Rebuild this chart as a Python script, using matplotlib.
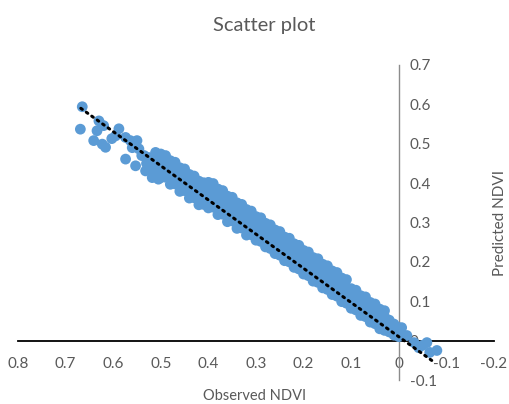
import matplotlib
matplotlib.use("Agg")
import matplotlib.pyplot as plt

# ---------------- data ----------------
# sparse upper-left part of the cloud
obs_sparse = [0.665, 0.669, 0.641, 0.630, 0.620, 0.634, 0.623, 0.616, 0.603, 0.588,
              0.574, 0.564, 0.550, 0.574, 0.553, 0.546, 0.525, 0.511, 0.532, 0.518,
              0.535, 0.520, 0.510, 0.530, 0.515, 0.505, 0.505, 0.540, 0.560, 0.595]
pred_sparse = [0.594, 0.537, 0.508, 0.558, 0.546, 0.533, 0.499, 0.491, 0.513, 0.538,
               0.516, 0.508, 0.508, 0.461, 0.444, 0.487, 0.465, 0.478, 0.431, 0.414,
               0.470, 0.450, 0.440, 0.450, 0.430, 0.410, 0.460, 0.470, 0.490, 0.520]

# dense band
obs_band = [
    0.50, 0.50, 0.50, 0.50, 0.49, 0.49, 0.49, 0.49, 0.48, 0.48, 0.48, 0.48,
    0.47, 0.47, 0.47, 0.47, 0.46, 0.46, 0.46, 0.46, 0.45, 0.45, 0.45, 0.45,
    0.44, 0.44, 0.44, 0.44, 0.43, 0.43, 0.43, 0.43, 0.42, 0.42, 0.42, 0.42,
    0.41, 0.41, 0.41, 0.41,
    0.40, 0.40, 0.40, 0.40, 0.39, 0.39, 0.39, 0.39, 0.38, 0.38, 0.38, 0.38,
    0.37, 0.37, 0.37, 0.37, 0.36, 0.36, 0.36, 0.36, 0.35, 0.35, 0.35, 0.35,
    0.34, 0.34, 0.34, 0.34, 0.33, 0.33, 0.33, 0.33, 0.32, 0.32, 0.32, 0.32,
    0.31, 0.31, 0.31, 0.31,
    0.30, 0.30, 0.30, 0.30, 0.29, 0.29, 0.29, 0.29, 0.28, 0.28, 0.28, 0.28,
    0.27, 0.27, 0.27, 0.27, 0.26, 0.26, 0.26, 0.26, 0.25, 0.25, 0.25, 0.25,
    0.24, 0.24, 0.24, 0.24, 0.23, 0.23, 0.23, 0.23, 0.22, 0.22, 0.22, 0.22,
    0.21, 0.21, 0.21, 0.21, 0.20, 0.20, 0.20, 0.20, 0.19, 0.19, 0.19, 0.19,
    0.18, 0.18, 0.18, 0.18, 0.17, 0.17, 0.17, 0.17, 0.16, 0.16, 0.16, 0.16,
    0.15, 0.15, 0.15, 0.15, 0.14, 0.14, 0.14, 0.14, 0.13, 0.13, 0.13, 0.13,
    0.12, 0.12, 0.12, 0.12, 0.11, 0.11, 0.11, 0.11,
    0.10, 0.10, 0.10, 0.10, 0.09, 0.09, 0.09, 0.09, 0.08, 0.08, 0.08, 0.08,
    0.07, 0.07, 0.07, 0.07, 0.06, 0.06, 0.06, 0.06, 0.05, 0.05, 0.05, 0.05,
    0.04, 0.04, 0.04, 0.04, 0.03, 0.03, 0.03, 0.03, 0.02, 0.02, 0.02,
    0.01, 0.01, 0.01, 0.00, 0.00, 0.00,
]
pred_band = [
    0.414, 0.434, 0.454, 0.474, 0.415, 0.435, 0.455, 0.470, 0.397, 0.417, 0.437, 0.457,
    0.398, 0.418, 0.438, 0.453, 0.379, 0.399, 0.419, 0.439, 0.381, 0.401, 0.421, 0.436,
    0.362, 0.382, 0.402, 0.422, 0.363, 0.383, 0.403, 0.418, 0.345, 0.365, 0.385, 0.405,
    0.346, 0.366, 0.386, 0.401,
    0.337, 0.357, 0.377, 0.402, 0.339, 0.359, 0.379, 0.399, 0.320, 0.340, 0.360, 0.385,
    0.321, 0.341, 0.361, 0.381, 0.302, 0.322, 0.342, 0.367, 0.304, 0.324, 0.344, 0.364,
    0.285, 0.305, 0.325, 0.350, 0.286, 0.306, 0.326, 0.346, 0.268, 0.288, 0.308, 0.333,
    0.269, 0.289, 0.309, 0.329,
    0.255, 0.275, 0.295, 0.315, 0.252, 0.272, 0.292, 0.312, 0.238, 0.258, 0.278, 0.298,
    0.234, 0.254, 0.274, 0.294, 0.221, 0.241, 0.261, 0.281, 0.217, 0.237, 0.257, 0.277,
    0.203, 0.223, 0.243, 0.263, 0.200, 0.220, 0.240, 0.260, 0.186, 0.206, 0.226, 0.246,
    0.182, 0.202, 0.222, 0.242, 0.169, 0.189, 0.209, 0.229, 0.165, 0.185, 0.205, 0.225,
    0.151, 0.171, 0.191, 0.211, 0.148, 0.168, 0.188, 0.208, 0.134, 0.154, 0.174, 0.194,
    0.130, 0.150, 0.170, 0.190, 0.117, 0.137, 0.157, 0.177, 0.113, 0.133, 0.153, 0.173,
    0.099, 0.119, 0.139, 0.159, 0.095, 0.115, 0.135, 0.155,
    0.082, 0.102, 0.117, 0.132, 0.078, 0.098, 0.113, 0.128, 0.064, 0.084, 0.099, 0.114,
    0.061, 0.081, 0.096, 0.111, 0.047, 0.067, 0.082, 0.097, 0.043, 0.063, 0.078, 0.093,
    0.030, 0.050, 0.065, 0.080, 0.026, 0.046, 0.061, 0.076, 0.022, 0.037, 0.052,
    0.014, 0.029, 0.042, 0.010, 0.022, 0.033,
]

# tail past zero
obs_tail = [-0.006, -0.017, -0.032, -0.042, -0.050, -0.059, -0.065, -0.080]
pred_tail = [0.033, 0.013, -0.005, -0.018, -0.012, -0.005, -0.030, -0.025]

# linear trendline end points
trend_obs = [0.668, -0.070]
pred_trend = [0.590, -0.051]

xticks = [0.8, 0.7, 0.6, 0.5, 0.4, 0.3, 0.2, 0.1, 0.0, -0.1, -0.2]
xtick_labels = ["0.8", "0.7", "0.6", "0.5", "0.4", "0.3", "0.2", "0.1", "0", "-0.1", "-0.2"]
yticks = [0.7, 0.6, 0.5, 0.4, 0.3, 0.2, 0.1, 0.0, -0.1]
ytick_labels = ["0.7", "0.6", "0.5", "0.4", "0.3", "0.2", "0.1", "0", "-0.1"]

# ---------------- plot ----------------
plt.rcParams['font.family'] = ['Lato', 'DejaVu Sans']
txt = '#595959'
blue = '#5B9BD5'

fig = plt.figure(figsize=(5.10, 4.04), dpi=100)
ax = fig.add_axes([18/510, 1-380/404, (494-18)/510, (380-65)/404])

obs_all = obs_sparse + obs_band + obs_tail
pred_all = pred_sparse + pred_band + pred_tail
ax.scatter(obs_all, pred_all, s=60, color=blue, edgecolors='none', zorder=3)
ax.plot(trend_obs, pred_trend, color='black', linewidth=2.2,
        linestyle=(0, (0.6, 1.6)), dash_capstyle='round', zorder=4)

ax.set_xlim(0.8, -0.2)
ax.set_ylim(-0.1, 0.7)
ax.set_xticks(xticks)
ax.set_xticklabels(xtick_labels)
ax.set_yticks(yticks)
ax.set_yticklabels(ytick_labels)

ax.spines['top'].set_visible(False)
ax.spines['left'].set_visible(False)
ax.spines['bottom'].set_position(('data', 0))
ax.spines['right'].set_position(('data', 0))
ax.spines['bottom'].set_color('black')
ax.spines['bottom'].set_linewidth(1.3)
ax.spines['right'].set_color('#8c8c8c')
ax.spines['right'].set_linewidth(1.0)
ax.yaxis.tick_right()
ax.tick_params(axis='x', length=0, pad=12, labelsize=11, labelcolor=txt)
ax.tick_params(axis='y', length=0, pad=8, labelsize=11, labelcolor=txt)
ax.patch.set_alpha(0)

fig.text(264/510, 1-25/404, 'Scatter plot', ha='center', va='center',
         fontsize=14.5, color=txt)
fig.text(255/510, 1-396/404, 'Observed NDVI', ha='center', va='center',
         fontsize=10.5, color=txt)
fig.text(493/510, 1-223/404, 'Predicted NDVI', ha='left', va='center',
         rotation=90, fontsize=11, color=txt)

fig.savefig('out.png', dpi=100)
